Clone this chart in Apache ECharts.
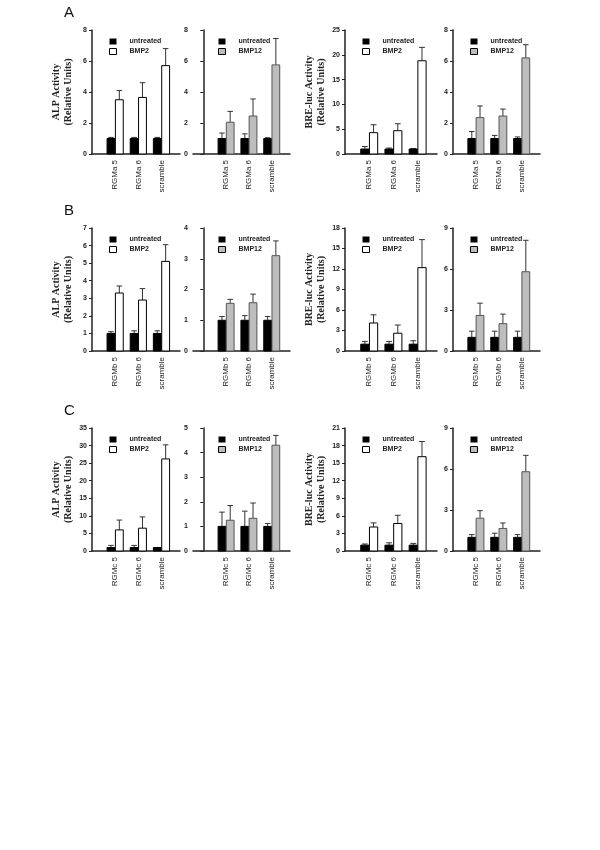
<!DOCTYPE html>
<html><head><meta charset="utf-8">
<script src="https://cdn.jsdelivr.net/npm/echarts@6/dist/echarts.min.js"></script>
<style>html,body{margin:0;padding:0;background:#fff}#c{width:600px;height:850px}</style>
</head><body><div id="c"></div>
<script>
// categories per row
const catsA = ['RGMa 5', 'RGMa 6', 'scramble'];
const catsB = ['RGMb 5', 'RGMb 6', 'scramble'];
const catsC = ['RGMc 5', 'RGMc 6', 'scramble'];
// y axis max / interval per panel (row-major)
const yMax = [8, 8, 25, 8, 7, 4, 18, 9, 35, 5, 21, 9];
const yInt = [2, 2, 5, 2, 1, 1, 3, 3, 5, 1, 3, 3];
const treatNames = ['BMP2', 'BMP12', 'BMP2', 'BMP12'];
// untreated means and error-bar tops
const untrA1 = [1, 1, 1], untrTopA1 = [1.07, 1.07, 1.07];
const trA1 = [3.5, 3.65, 5.7], trTopA1 = [4.1, 4.6, 6.8];
const untrA2 = [1, 1, 1], untrTopA2 = [1.35, 1.3, 1.05];
const trA2 = [2.05, 2.45, 5.75], trTopA2 = [2.75, 3.55, 7.45];
const untrA3 = [1, 1, 1], untrTopA3 = [1.5, 1.2, 1.1];
const trA3 = [4.3, 4.7, 18.8], trTopA3 = [5.9, 6.1, 21.5];
const untrA4 = [1, 1, 1], untrTopA4 = [1.45, 1.2, 1.1];
const trA4 = [2.35, 2.45, 6.2], trTopA4 = [3.1, 2.9, 7.05];
const untrB1 = [1, 1, 1], untrTopB1 = [1.1, 1.15, 1.15];
const trB1 = [3.3, 2.9, 5.1], trTopB1 = [3.7, 3.55, 6.05];
const untrB2 = [1, 1, 1], untrTopB2 = [1.12, 1.15, 1.12];
const trB2 = [1.55, 1.57, 3.1], trTopB2 = [1.68, 1.85, 3.58];
const untrB3 = [1, 1, 1], untrTopB3 = [1.4, 1.4, 1.5];
const trB3 = [4.1, 2.6, 12.2], trTopB3 = [5.3, 3.8, 16.3];
const untrB4 = [1, 1, 1], untrTopB4 = [1.45, 1.45, 1.45];
const trB4 = [2.6, 2.0, 5.8], trTopB4 = [3.5, 2.7, 8.1];
const untrC1 = [1, 1, 1], untrTopC1 = [1.6, 1.6, 1.0];
const trC1 = [6, 6.5, 26.2], trTopC1 = [8.8, 9.7, 30.2];
const untrC2 = [1, 1, 1], untrTopC2 = [1.58, 1.62, 1.12];
const trC2 = [1.25, 1.33, 4.3], trTopC2 = [1.85, 1.95, 4.7];
const untrC3 = [1, 1, 1], untrTopC3 = [1.2, 1.4, 1.3];
const trC3 = [4.1, 4.7, 16.1], trTopC3 = [4.8, 6.1, 18.7];
const untrC4 = [1, 1, 1], untrTopC4 = [1.2, 1.3, 1.2];
const trC4 = [2.4, 1.65, 5.8], trTopC4 = [2.95, 2.05, 7.0];

const panels = [
  [catsA, untrA1, untrTopA1, trA1, trTopA1], [catsA, untrA2, untrTopA2, trA2, trTopA2],
  [catsA, untrA3, untrTopA3, trA3, trTopA3], [catsA, untrA4, untrTopA4, trA4, trTopA4],
  [catsB, untrB1, untrTopB1, trB1, trTopB1], [catsB, untrB2, untrTopB2, trB2, trTopB2],
  [catsB, untrB3, untrTopB3, trB3, trTopB3], [catsB, untrB4, untrTopB4, trB4, trTopB4],
  [catsC, untrC1, untrTopC1, trC1, trTopC1], [catsC, untrC2, untrTopC2, trC2, trTopC2],
  [catsC, untrC3, untrTopC3, trC3, trTopC3], [catsC, untrC4, untrTopC4, trC4, trTopC4]
];

const rowTop = [30, 228, 428], rowZero = [154, 351, 551];
const colLeft = [92, 193, 345, 453], colWidth = [88, 97, 92, 87], colMin = [0, -0.45, 0, 0];
const letters = ['A', 'B', 'C'];
const yNames = ['ALP Activity\n(Relative Units)', 'BRE-luc Activity\n(Relative Units)'];

const grids = [], xAxes = [], yAxes = [], series = [], legends = [], graphics = [];
const fillFor = n => n === 'untreated' ? ['#000', '#000'] : (n === 'BMP2' ? ['#fff', '#000'] : ['#bdbdbd', '#555']);

panels.forEach((p, k) => {
  const r = Math.floor(k / 4), c = k % 4;
  const [cats, u, ut, t, tt] = p;
  grids.push({left: colLeft[c], top: rowTop[r], width: colWidth[c], height: rowZero[r] - rowTop[r]});
  xAxes.push({gridIndex: k, type: 'value', min: colMin[c], max: 3.8,
    axisLine: {show: true, lineStyle: {color: '#222', width: 1.5}}, axisTick: {show: false}, splitLine: {show: false},
    axisLabel: {customValues: [1, 2, 3], rotate: 90, formatter: v => cats[Math.round(v) - 1] || '',
      fontFamily: 'Liberation Sans, Arial', fontSize: 8, color: '#222', margin: 6}});
  yAxes.push({gridIndex: k, type: 'value', min: 0, max: yMax[k], interval: yInt[k],
    axisLine: {show: true, lineStyle: {color: '#222', width: 1.5}}, axisTick: {show: true, length: 3, lineStyle: {color: '#222'}},
    splitLine: {show: false},
    axisLabel: {fontFamily: 'Liberation Sans, Arial', fontWeight: 'bold', fontSize: 7, color: '#222', margin: 5},
    name: (c === 0 || c === 2) ? yNames[c / 2] : '', nameLocation: 'middle', nameRotate: 90, nameGap: 18,
    nameTextStyle: {fontFamily: 'Liberation Serif, Times New Roman', fontWeight: 'bold', fontSize: 10, color: '#222', lineHeight: 12}});
  const tn = treatNames[c];
  [['untreated', u, ut, -0.18], [tn, t, tt, 0.18]].forEach(([name, vals, tops, off]) => {
    const [fill, stroke] = fillFor(name);
    series.push({type: 'custom', name, xAxisIndex: k, yAxisIndex: k,
      itemStyle: {color: fill, borderColor: stroke},
      data: vals.map((v, i) => [i + 1, v, tops[i]]),
      encode: {x: 0, y: 1},
      renderItem: (params, api) => {
        const x = api.value(0) + off, v = api.value(1), tp = api.value(2);
        const a = api.coord([x - 0.17, 0]), b = api.coord([x + 0.17, v]);
        const top = api.coord([x, tp]), mid = api.coord([x, v]);
        const cw = api.size([0.12, 0])[0];
        return {type: 'group', children: [
          {type: 'line', shape: {x1: top[0], y1: mid[1], x2: top[0], y2: top[1]}, style: {stroke: '#333', lineWidth: 1}},
          {type: 'line', shape: {x1: top[0] - cw, y1: top[1], x2: top[0] + cw, y2: top[1]}, style: {stroke: '#333', lineWidth: 1}},
          {type: 'rect', shape: {x: a[0], y: b[1], width: b[0] - a[0], height: a[1] - b[1]}, style: {fill, stroke, lineWidth: 1}}
        ]};
      }});
  });
  legends.push({data: [{name: 'untreated', icon: 'rect', itemStyle: {color: '#000', borderColor: '#000'}},
      {name: tn, icon: 'rect', itemStyle: {color: fillFor(tn)[0], borderColor: '#000', borderWidth: 1}}],
    orient: 'vertical', left: colLeft[c] + 12 + (c === 1 ? 8 : 0), top: rowTop[r] + 3, itemWidth: 7, itemHeight: 6, itemGap: 3,
    selectedMode: false, textStyle: {fontFamily: 'Liberation Sans, Arial', fontWeight: 'bold', fontSize: 7, color: '#222', padding: [0, 0, 0, 8]}});
});
letters.forEach((L, r) => graphics.push({type: 'text', left: 64, top: rowTop[r] - 25,
  style: {text: L, font: '15px Liberation Sans, Arial', fill: '#111'}}));

echarts.init(document.getElementById('c')).setOption({
  backgroundColor: '#fff', animation: false,
  grid: grids, xAxis: xAxes, yAxis: yAxes, series, legend: legends, graphic: graphics
});
</script></body></html>
